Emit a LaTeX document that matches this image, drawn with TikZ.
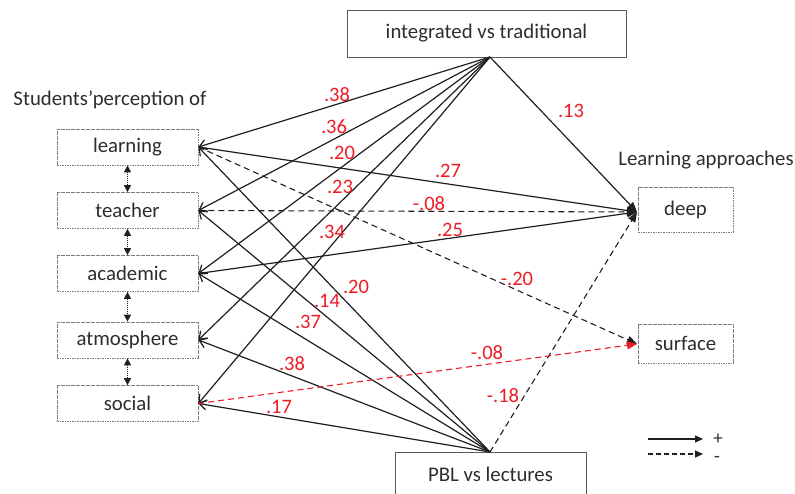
\documentclass[tikz,border=0pt]{standalone}
\usepackage{fontspec}
\setmainfont{Carlito}
\usetikzlibrary{arrows.meta}
\definecolor{txt}{RGB}{45,45,45}
\definecolor{lab}{RGB}{237,28,36}
\definecolor{bord}{RGB}{125,125,125}
\begin{document}
\begin{tikzpicture}[x=1pt,y=-1pt,
  font=\fontsize{20.8}{24}\selectfont, text=txt,
  varbox/.style={draw=bord, dash pattern=on 1.6pt off 0.9pt, line width=0.7pt,
    minimum width=141pt, minimum height=36pt, inner sep=0pt},
  outbox/.style={draw=bord, dash pattern=on 1.6pt off 0.9pt, line width=0.7pt,
    minimum width=95pt, inner sep=0pt},
  topbox/.style={draw=black!65, line width=0.9pt, inner sep=0pt},
  lbl/.style={text=lab, font=\fontsize{20.5}{24}\selectfont, inner sep=0pt},
  legtxt/.style={font=\fontsize{19}{19}\selectfont, inner sep=0pt, text height=10pt, text depth=0pt},
  pathto/.style={line width=1.2pt, draw=black!88, -{Straight Barb[length=7pt,width=10pt,line width=1.2pt]}},
  posarr/.style={line width=1.2pt, draw=black!88, -{Triangle[length=10pt,width=8pt]}},
  negarr/.style={line width=1.1pt, draw=black!88, dash pattern=on 6pt off 4pt, -{Triangle[length=10pt,width=8pt]}},
  negred/.style={line width=1.1pt, draw=lab, dash pattern=on 6pt off 4pt, -{Triangle[length=10pt,width=8pt]}},
  corr/.style={line width=1pt, draw=black!88, dash pattern=on 1pt off 1pt, {Triangle[length=7pt,width=7pt]}-{Triangle[length=7pt,width=7pt]}},
  legsolid/.style={line width=1.2pt, draw=black!88, -{Triangle[length=8pt,width=7pt]}},
  legdash/.style={line width=1.2pt, draw=black!88, dash pattern=on 5pt off 3pt, -{Triangle[length=8pt,width=7pt]}}
]
\useasboundingbox (0,0) rectangle (795,494);

% headings
\node (hstud) at (110,100) {Students’perception of};
\node (happ) at (706,160) {Learning approaches};

% left boxes
\node[varbox] (learning) at (127.5,147) {learning};
\node[varbox] (teacher) at (127.5,210.5) {teacher};
\node[varbox] (academic) at (127.5,273.5) {academic};
\node[varbox] (atmosphere) at (127.5,340) {atmosphere};
\node[varbox] (social) at (127.5,403.5) {social};

% outcome boxes
\node[outbox, minimum height=45pt] (deep) at (685.5,209.5) {deep};
\node[outbox, minimum height=39pt] (surface) at (685.5,343.5) {surface};

% top/bottom boxes
\node[topbox, minimum width=279pt, minimum height=47pt] (integ) at (486.5,33.5) {integrated vs traditional};
\node[topbox, minimum width=191pt, minimum height=44pt] (pbl) at (490.5,474) {PBL vs lectures};

\coordinate (ia) at (490,57);
\coordinate (pa) at (490,452);
\coordinate (dtip) at (637,212);
\coordinate (stip) at (637,344);

% correlations
\draw[corr] (learning.south) -- (teacher.north);
\draw[corr] (teacher.south) -- (academic.north);
\draw[corr] (academic.south) -- (atmosphere.north);
\draw[corr] (atmosphere.south) -- (social.north);

% integrated vs traditional paths
\draw[pathto] (ia) -- (learning.east);
\draw[pathto] (ia) -- (teacher.east);
\draw[pathto] (ia) -- (academic.east);
\draw[pathto] (ia) -- (atmosphere.east);
\draw[pathto] (ia) -- (social.east);
\draw[posarr] (ia) -- (dtip);

% PBL vs lectures paths
\draw[pathto] (pa) -- (learning.east);
\draw[pathto] (pa) -- (teacher.east);
\draw[pathto] (pa) -- (academic.east);
\draw[pathto] (pa) -- (atmosphere.east);
\draw[pathto] (pa) -- (social.east);
\draw[negarr] (pa) -- (dtip);

% perception -> approaches
\draw[posarr] (learning.east) -- (dtip);
\draw[negarr] (teacher.east) -- (dtip);
\draw[posarr] (academic.east) -- (dtip);
\draw[negarr] (learning.east) -- (stip);
\draw[negred] (social.east) -- (stip);

% labels
\node[lbl] (l1) at (337,95) {.38};
\node[lbl] (l2) at (334,127) {.36};
\node[lbl] (l3) at (342,153) {.20};
\node[lbl] (l4) at (340,187) {.23};
\node[lbl] (l5) at (332,232) {.34};
\node[lbl] (l6) at (356,287) {.20};
\node[lbl] (l7) at (327,301) {.14};
\node[lbl] (l8) at (308,322) {.37};
\node[lbl] (l9) at (292,364) {.38};
\node[lbl] (l10) at (279,407) {.17};
\node[lbl] (l11) at (571,111) {.13};
\node[lbl] (l12) at (448,171) {.27};
\node[lbl] (l13) at (429,204) {-.08};
\node[lbl] (l14) at (450,230) {.25};
\node[lbl] (l15) at (517,279) {-.20};
\node[lbl] (l16) at (487,353) {-.08};
\node[lbl] (l17) at (503,396) {-.18};

% legend
\coordinate (la1) at (648,439);
\coordinate (lb1) at (703,439);
\coordinate (la2) at (648,454);
\coordinate (lb2) at (703,454);
\draw[legsolid] (la1) -- (lb1);
\draw[legdash] (la2) -- (lb2);
\node[legtxt] (lplus) at (718,439) {+};
\node[legtxt] (lminus) at (717,457) {-};
\end{tikzpicture}
\end{document}
